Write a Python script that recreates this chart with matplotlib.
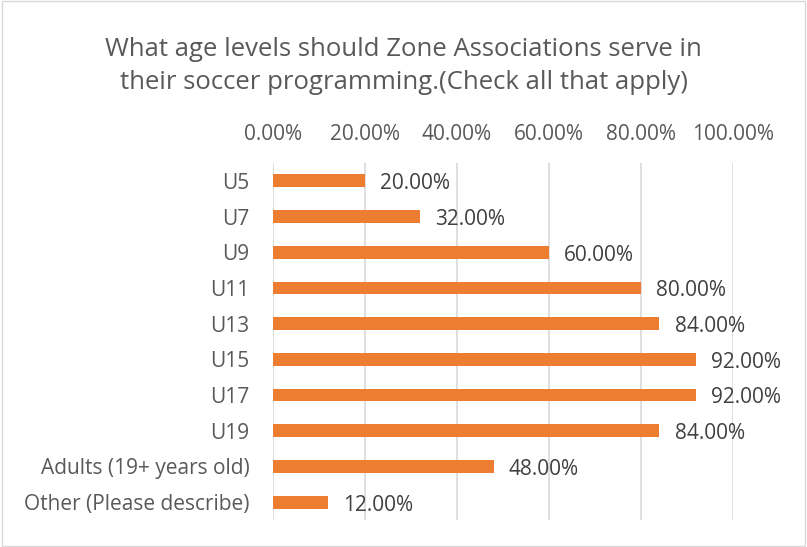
import matplotlib.pyplot as plt
from matplotlib.patches import Rectangle

categories = ["U5", "U7", "U9", "U11", "U13", "U15", "U17", "U19",
              "Adults (19+ years old)", "Other (Please describe)"]
values = [20, 32, 60, 80, 84, 92, 92, 84, 48, 12]
ticks = [0, 20, 40, 60, 80, 100]

plt.rcParams['font.family'] = ['Open Sans', 'DejaVu Sans']

fig = plt.figure(figsize=(8.07, 5.47), dpi=100)
ax = fig.add_axes([273/807, 1 - 520/547, 460/807, 357/547])

y = range(len(categories))
ax.barh(y, values, height=0.36, color="#ED7D31", zorder=3)
for i, v in enumerate(values):
    ax.text(v + 3.3, i + 0.08, f"{v:.2f}%", va="center", ha="left",
            fontsize=15, color="#404040")

ax.set_xlim(0, 100)
ax.set_ylim(len(categories) - 0.5, -0.5)
ax.set_xticks(ticks)
ax.set_xticklabels([f"{t:.2f}%" for t in ticks])
ax.xaxis.tick_top()
ax.set_yticks(list(y))
ax.set_yticklabels(categories)
ax.tick_params(axis="x", length=0, pad=13, labelsize=15, colors="#595959")
ax.tick_params(axis="y", length=0, pad=17, labelsize=15, colors="#595959")
ax.grid(axis="x", color="#D9D9D9", linewidth=1.2, zorder=0)
for s in ax.spines.values():
    s.set_visible(False)

fig.text(0.5, 1 - 66/547, "What age levels should Zone Associations serve in\n"
         "their soccer programming.(Check all that apply)",
         ha="center", va="center", fontsize=18.5, color="#595959",
         linespacing=1.38)

fig.patches.append(Rectangle((0.002, 0.002), 0.996, 0.996, transform=fig.transFigure,
                             fill=False, edgecolor="#D9D9D9", linewidth=1))

fig.savefig("out.png", dpi=100)
